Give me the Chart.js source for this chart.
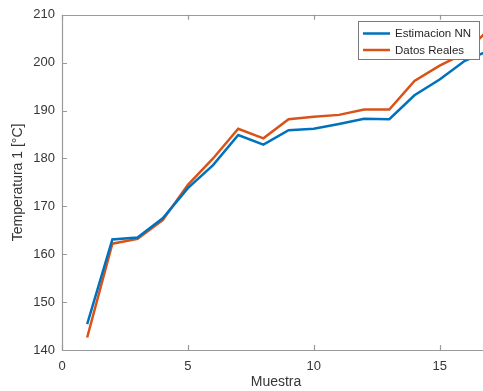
<!DOCTYPE html>
<html><head><meta charset="utf-8">
<script src="https://cdn.jsdelivr.net/npm/chart.js@4/dist/chart.umd.min.js"></script>
<style>html,body{margin:0;padding:0;background:#fff;overflow:hidden;width:483px;height:391px}#wrap{width:492px;height:391px}</style>
</head><body><div id="wrap"><canvas id="c" width="492" height="391"></canvas></div>
<script>
const muestras = [1,2,3,4,5,6,7,8,9,10,11,12,13,14,15,16,17];
const estimacionNN = [145.4,163.1,163.5,167.5,173.8,178.6,184.9,182.9,185.9,186.2,187.2,188.3,188.2,193.2,196.5,200.4,202.6];
const datosReales = [142.6,162.2,163.2,167.1,174.5,180.0,186.2,184.2,188.2,188.7,189.1,190.2,190.2,196.2,199.4,202.0,207.2];
const xTicks = [0,5,10,15];
const yTicks = [140,150,160,170,180,190,200,210];
const seriesNames = ['Estimacion NN','Datos Reales'];
const seriesColors = ['#0072BD','#D95319'];
const textColor = '#363636';
const axisColor = '#9a9a9a';
const fontFam = '"Liberation Sans", Arial, Helvetica, sans-serif';

const boxPlugin = {
  id: 'matlabBox',
  afterDatasetsDraw(chart) {
    const {ctx, chartArea: a, scales: {x, y}} = chart;
    ctx.save();
    ctx.strokeStyle = axisColor;
    ctx.lineWidth = 1.2;
    ctx.beginPath();
    ctx.rect(Math.round(a.left)+0.5, Math.round(a.top)+0.5, Math.round(a.right-a.left), Math.round(a.bottom-a.top));
    ctx.stroke();
    const tl = 5;
    ctx.beginPath();
    xTicks.forEach(v => {
      const px = Math.round(x.getPixelForValue(v))+0.5;
      ctx.moveTo(px, a.bottom); ctx.lineTo(px, a.bottom - tl);
      ctx.moveTo(px, a.top); ctx.lineTo(px, a.top + tl);
    });
    yTicks.forEach(v => {
      const py = Math.round(y.getPixelForValue(v))+0.5;
      ctx.moveTo(a.left, py); ctx.lineTo(a.left + tl, py);
      ctx.moveTo(a.right, py); ctx.lineTo(a.right - tl, py);
    });
    ctx.stroke();
    // legend
    const lx = 358.5, ly = 21.5, lw = 121, lh = 38;
    ctx.fillStyle = '#fff';
    ctx.fillRect(lx, ly, lw, lh);
    ctx.strokeStyle = '#7a7a7a';
    ctx.lineWidth = 1;
    ctx.strokeRect(lx, ly, lw, lh);
    ctx.font = '11.5px ' + fontFam;
    ctx.textBaseline = 'middle';
    ctx.textAlign = 'left';
    chart.data.datasets.forEach((ds, i) => {
      const cy = 33.5 + i * 16.5;
      ctx.strokeStyle = ds.borderColor;
      ctx.lineWidth = 2.5;
      ctx.beginPath(); ctx.moveTo(363, cy); ctx.lineTo(390, cy); ctx.stroke();
      ctx.fillStyle = '#262626';
      ctx.fillText(ds.label, 395, cy + 0.5);
    });
    ctx.restore();
  }
};

new Chart(document.getElementById('c'), {
  type: 'line',
  data: {
    labels: muestras,
    datasets: [
      {label: seriesNames[0], data: muestras.map((m,i)=>({x:m,y:estimacionNN[i]})), borderColor: seriesColors[0], backgroundColor: seriesColors[0], borderWidth: 2.5, pointRadius: 0, tension: 0},
      {label: seriesNames[1], data: muestras.map((m,i)=>({x:m,y:datosReales[i]})), borderColor: seriesColors[1], backgroundColor: seriesColors[1], borderWidth: 2.5, pointRadius: 0, tension: 0}
    ]
  },
  options: {
    responsive: false,
    animation: false,
    devicePixelRatio: 1,
    layout: {padding: {left: 0, top: 12, right: 2, bottom: 0}},
    plugins: {legend: {display: false}, tooltip: {enabled: false}},
    scales: {
      x: {
        type: 'linear', min: 0, max: 17,
        afterBuildTicks: s => { s.ticks = xTicks.map(v => ({value: v})); },
        afterFit: s => { s.height = 41; },
        grid: {display: false, drawTicks: false},
        border: {display: false},
        ticks: {padding: 9, color: textColor, font: {family: fontFam, size: 13}, maxRotation: 0},
        title: {display: true, text: 'Muestra', color: textColor, font: {family: fontFam, size: 14}, padding: {top: 0, bottom: 0}}
      },
      y: {
        type: 'linear', min: 140, max: 210,
        afterBuildTicks: s => { s.ticks = yTicks.map(v => ({value: v})); },
        afterFit: s => { s.width = 62; },
        grid: {display: false, drawTicks: false},
        border: {display: false},
        ticks: {padding: 7, color: textColor, font: {family: fontFam, size: 13}},
        title: {display: true, text: 'Temperatura 1 [°C]', color: textColor, font: {family: fontFam, size: 14}, padding: {top: 10, bottom: 0}}
      }
    }
  },
  plugins: [boxPlugin]
});
</script></body></html>
